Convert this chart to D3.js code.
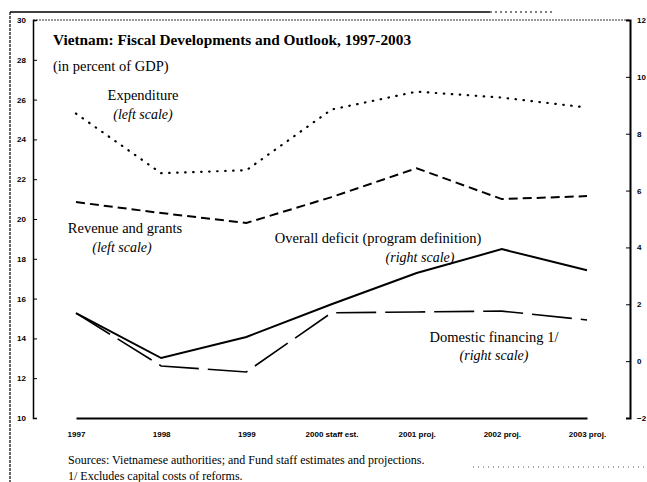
<!DOCTYPE html>
<html>
<head>
<meta charset="utf-8">
<script src="https://cdn.jsdelivr.net/npm/d3@7"></script>
<style>
  body { margin: 0; background: #fff; }
  svg { font-family: "Liberation Serif", "Times New Roman", serif; }
  .ejes text { font-size: 8px; font-weight: bold; fill: #000; }
  .ejes path, .ejes line { stroke: #000; }
  .titulo { font-size: 15.3px; font-weight: bold; }
  .sub { font-size: 14.5px; }
  .lab { font-size: 14.5px; }
  .labi { font-size: 14px; font-style: italic; }
  .pie { font-size: 12px; }
</style>
</head>
<body>
<div id="graf"></div>
<script>
// datos
const anios = ["1997", "1998", "1999", "2000 staff est.", "2001 proj.", "2002 proj.", "2003 proj."]
const gasto = [25.3, 22.3, 22.45, 25.5, 26.4, 26.1, 25.6]          // escala izquierda
const ingresos = [20.85, 20.3, 19.8, 21.1, 22.55, 21.0, 21.15]    // escala izquierda
const deficit = [1.69, 0.11, 0.85, 2.0, 3.1, 3.94, 3.2]           // escala derecha
const finDomestico = [1.69, -0.17, -0.38, 1.7, 1.73, 1.76, 1.45]  // escala derecha
const ticksIzq = [10, 12, 14, 16, 18, 20, 22, 24, 26, 28, 30]
const ticksDer = [-2, 0, 2, 4, 6, 8, 10, 12]

const anchoTotal = 647
const altoTotal = 482
const margins = { left: 33, top: 20, right: 17, bottom: 64 }
const ancho = anchoTotal - margins.left - margins.right
const alto = altoTotal - margins.top - margins.bottom

const svg = d3.select("#graf")
  .append("svg")
  .attr("width", anchoTotal)
  .attr("height", altoTotal)

// marco exterior del escaneo
svg.append("line").attr("x1", 10).attr("y1", 12).attr("x2", 10).attr("y2", 482)
  .attr("stroke", "#000").attr("stroke-width", 1.2).attr("stroke-dasharray", "3,1")
svg.append("line").attr("x1", 10).attr("y1", 12).attr("x2", 490).attr("y2", 12)
  .attr("stroke", "#000").attr("stroke-width", 1.5)
svg.append("line").attr("x1", 490).attr("y1", 12).attr("x2", 555).attr("y2", 12)
  .attr("stroke", "#000").attr("stroke-width", 1).attr("stroke-dasharray", "2,3")
svg.append("line").attr("x1", 473).attr("y1", 467).attr("x2", 647).attr("y2", 467)
  .attr("stroke", "#555").attr("stroke-width", 1).attr("stroke-dasharray", "1,4")

const g = svg.append("g")
  .attr("transform", `translate(${margins.left}, ${margins.top})`)

const x = d3.scalePoint().domain(anios).range([43, 554])
const yIzq = d3.scaleLinear().domain([10, 30]).range([alto, 0])
const yDer = d3.scaleLinear().domain([-2, 12]).range([alto, 0])

// borde superior punteado
g.append("line").attr("x1", 0).attr("x2", ancho).attr("y1", 0).attr("y2", 0)
  .attr("stroke", "#000").attr("stroke-width", 0.8).attr("stroke-dasharray", "2,1")

const ejeIzq = d3.axisLeft(yIzq).tickValues(ticksIzq).tickSize(-4).tickPadding(7)
const ejeDer = d3.axisRight(yDer).tickValues(ticksDer).tickSize(-4).tickPadding(7)
const ejeX = d3.axisBottom(x).tickSize(0).tickPadding(13)

g.append("g").attr("class", "ejes").call(ejeIzq)
  .call((s) => s.select(".domain").attr("stroke-width", 1.5))
g.append("g").attr("class", "ejes")
  .attr("transform", `translate(${ancho}, 0)`)
  .call(ejeDer)
  .call((s) => s.select(".domain").attr("stroke-width", 2))
g.append("g").attr("class", "ejes")
  .attr("transform", `translate(0, ${alto})`)
  .call(ejeX)
  .call((s) => s.select(".domain").attr("stroke-width", 2))
  .call((s) => s.selectAll("text").style("font-size", "8px"))

// líneas
const lineaIzq = d3.line().x((d, i) => x(anios[i])).y((d) => yIzq(d))
const lineaDer = d3.line().x((d, i) => x(anios[i])).y((d) => yDer(d))

g.append("path").attr("d", lineaIzq(gasto))
  .attr("fill", "none").attr("stroke", "#000").attr("stroke-width", 2.2)
  .attr("stroke-linecap", "round").attr("stroke-dasharray", "0.5,7.5")
g.append("path").attr("d", lineaIzq(ingresos))
  .attr("fill", "none").attr("stroke", "#000").attr("stroke-width", 2)
  .attr("stroke-dasharray", "9,5")
g.append("path").attr("d", lineaDer(deficit))
  .attr("fill", "none").attr("stroke", "#000").attr("stroke-width", 2)
g.append("path").attr("d", lineaDer(finDomestico))
  .attr("fill", "none").attr("stroke", "#000").attr("stroke-width", 1.6)
  .attr("stroke-dasharray", "40,9")

// textos
svg.append("text").attr("class", "titulo").attr("x", 53).attr("y", 45)
  .text("Vietnam: Fiscal Developments and Outlook, 1997-2003")
svg.append("text").attr("class", "sub").attr("x", 53).attr("y", 71)
  .text("(in percent of GDP)")

const etiquetas = [
  { t: "Expenditure", x: 143, y: 100, c: "lab" },
  { t: "(left scale)", x: 143, y: 119, c: "labi" },
  { t: "Revenue and grants", x: 125, y: 233, c: "lab" },
  { t: "(left scale)", x: 122, y: 252, c: "labi" },
  { t: "Overall deficit (program definition)", x: 378, y: 243, c: "lab" },
  { t: "(right scale)", x: 420, y: 262, c: "labi" },
  { t: "Domestic financing 1/", x: 494, y: 342, c: "lab" },
  { t: "(right scale)", x: 494, y: 360, c: "labi" }
]
svg.selectAll(".serie").data(etiquetas).enter()
  .append("text")
  .attr("class", (d) => d.c)
  .attr("x", (d) => d.x)
  .attr("y", (d) => d.y)
  .attr("text-anchor", "middle")
  .text((d) => d.t)

svg.append("text").attr("class", "pie").attr("x", 68).attr("y", 464)
  .text("Sources:  Vietnamese authorities; and Fund staff estimates and projections.")
svg.append("text").attr("class", "pie").attr("x", 68).attr("y", 480)
  .text("1/ Excludes capital costs of reforms.")
</script>
</body>
</html>
